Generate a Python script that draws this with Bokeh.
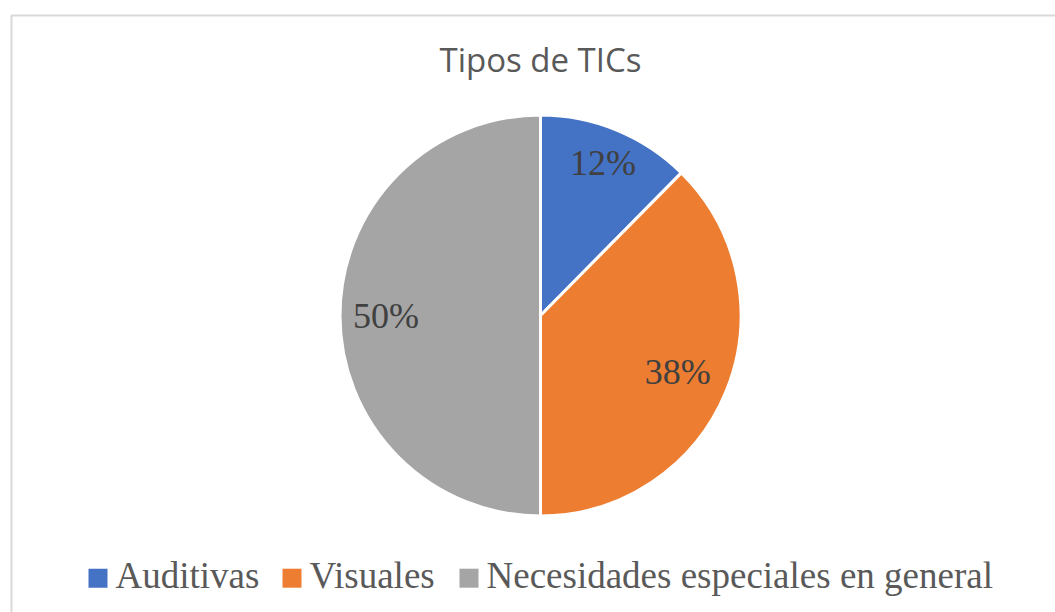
import math
from bokeh.plotting import figure
from bokeh.models import Range1d, ColumnDataSource
from bokeh.core.properties import value
from bokeh.embed import file_html
from bokeh.resources import INLINE

# ---- data ----
categories = ["Auditivas", "Visuales", "Necesidades especiales en general"]
shares = [12.4, 37.6, 50.0]
labels = ["12%", "38%", "50%"]
colors = ["#4472C4", "#ED7D31", "#A5A5A5"]
title_text = "Tipos de TICs"

# ---- layout (screen px, 1 data unit = 1 px, y measured from bottom) ----
W, H = 1055, 612
CX, CY, R = 540, 297, 200.5
label_r = [0.82, 0.74, 0.77]
legend_x = [88, 282, 459]   # left edge of each legend square
legend_sq_y = 34.3
legend_text_y = 37.2
sq = 19

p = figure(width=W, height=H, output_backend="svg", toolbar_location=None,
           x_range=Range1d(0, W), y_range=Range1d(0, H), min_border=0)
p.axis.visible = False
p.grid.visible = False
p.outline_line_color = None
p.background_fill_color = "white"
p.border_fill_color = "white"

# chart border (left and top visible)
p.quad(left=[11], right=[W + 50], top=[597], bottom=[-50], fill_color=None,
       line_color="#D9D9D9", line_width=2)

total = sum(shares)
starts, ends, lx, ly = [], [], [], []
cum = 0.0
for i, s in enumerate(shares):
    a0 = math.pi / 2 - 2 * math.pi * cum / total
    cum += s
    a1 = math.pi / 2 - 2 * math.pi * cum / total
    starts.append(a0)
    ends.append(a1)
    mid = (a0 + a1) / 2
    lx.append(CX + label_r[i] * R * math.cos(mid))
    ly.append(CY + label_r[i] * R * math.sin(mid))

src = ColumnDataSource(dict(start=starts, end=ends, color=colors, cat=categories,
                            lx=lx, ly=ly, lab=labels))
p.wedge(x=CX, y=CY, radius=R, start_angle="start", end_angle="end",
        direction="clock", fill_color="color", line_color="white", line_width=3,
        source=src)

p.text(x="lx", y="ly", text="lab", source=src, text_align="center",
       text_baseline="middle",
       text_font=value("Liberation Serif"), text_font_size="36px",
       text_color="#404040")

# title
p.text(x=[CX], y=[553], text=[title_text], text_align="center",
       text_baseline="middle", text_font=value("Open Sans"),
       text_font_size="33px", text_color="#595959")

# legend
leg = ColumnDataSource(dict(
    x=[x + sq / 2 for x in legend_x], y=[legend_sq_y] * 3,
    tx=[x + sq + 8 for x in legend_x], ty=[legend_text_y] * 3,
    color=colors, cat=categories))
p.rect(x="x", y="y", width=sq, height=sq, fill_color="color", line_color=None,
       source=leg)
p.text(x="tx", y="ty", text="cat", source=leg, text_align="left",
       text_baseline="middle", text_font=value("Liberation Serif"),
       text_font_size="37px", text_color="#595959")

open("out.html", "w").write(file_html(p, INLINE))
